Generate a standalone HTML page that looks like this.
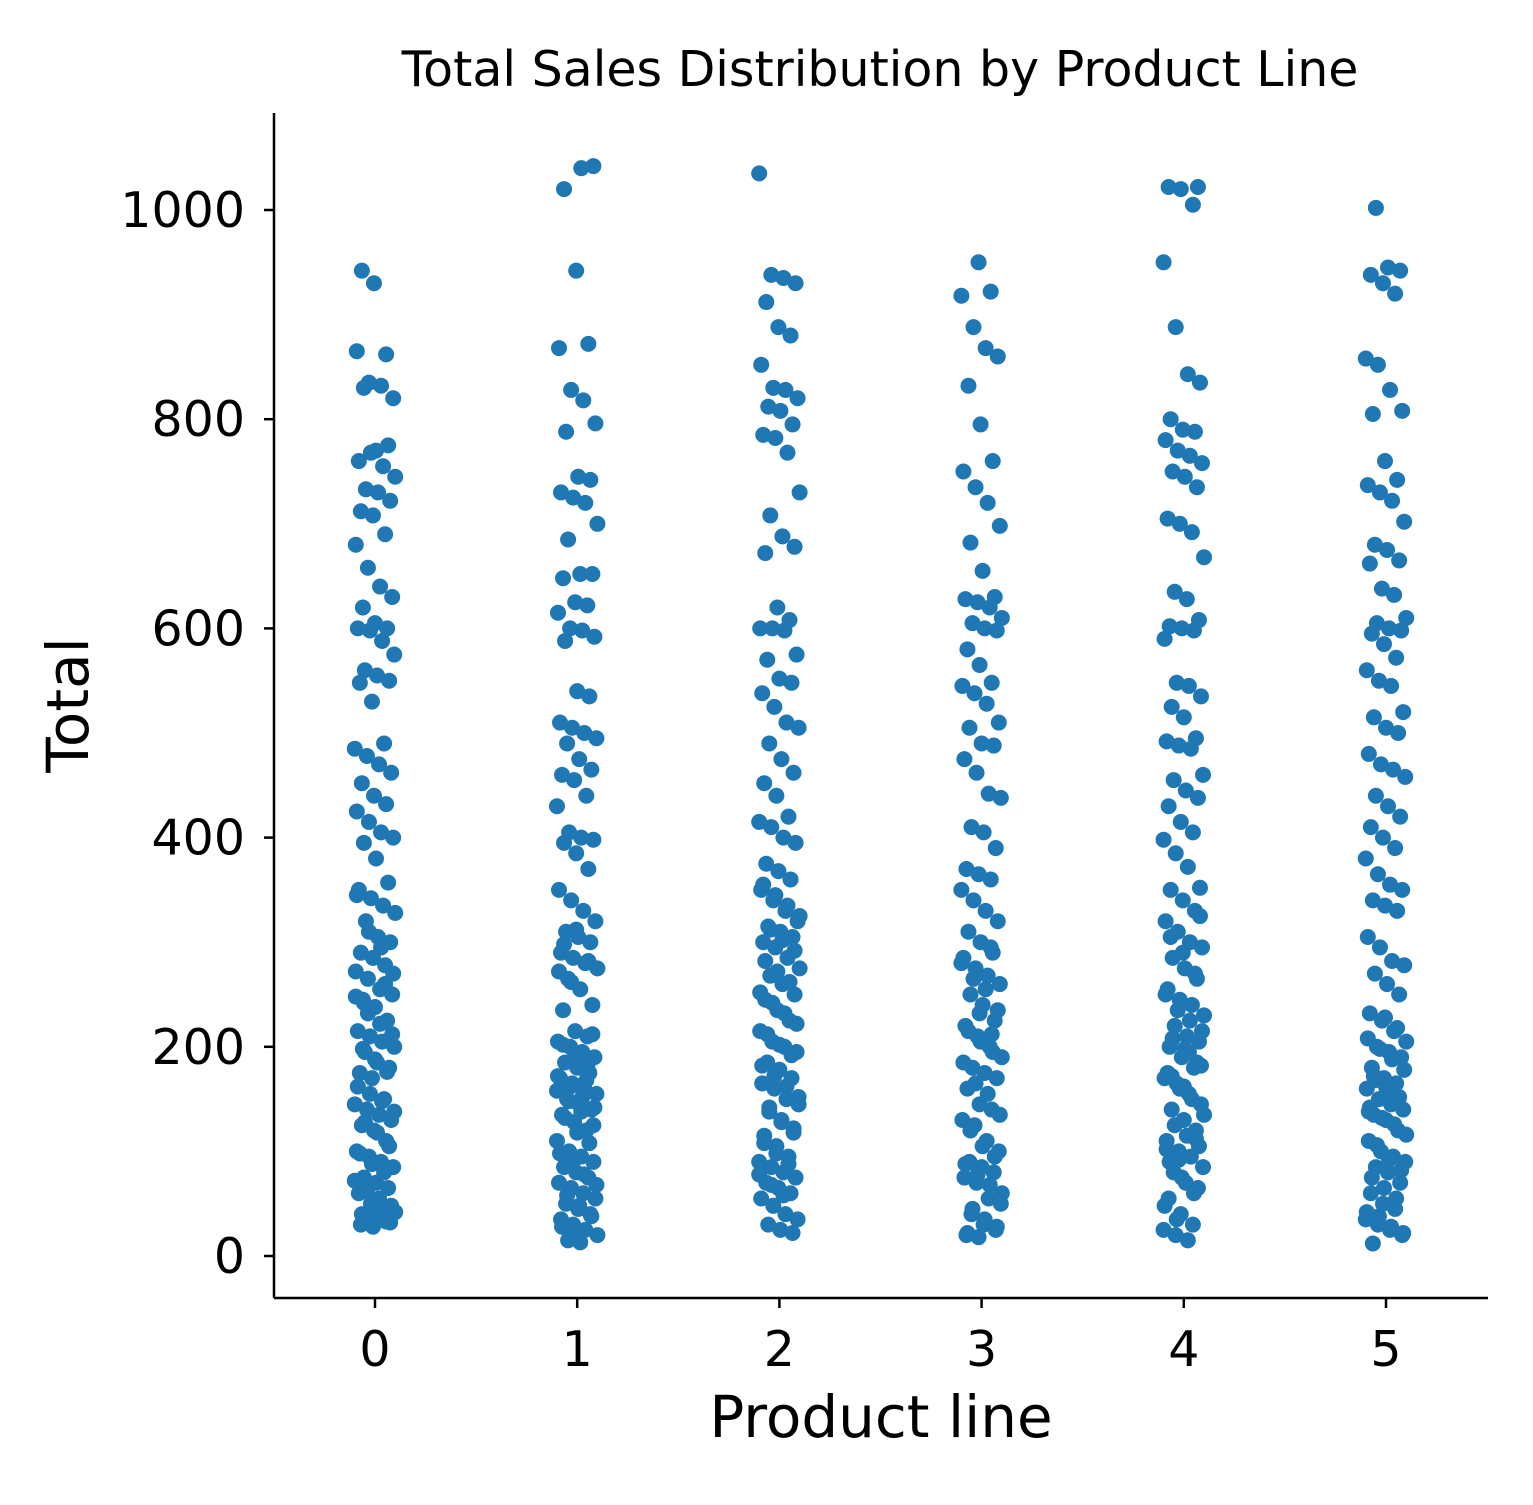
<!DOCTYPE html>
<html><head><meta charset="utf-8"><style>
body{margin:0;background:#fff}
svg text{font-family:"DejaVu Sans","Liberation Sans",sans-serif;fill:#000}
</style></head><body>
<svg id="chart" width="1533" height="1500" xmlns="http://www.w3.org/2000/svg">
<rect width="1533" height="1500" fill="#fff"/>
<text x="880" y="86" font-size="49" text-anchor="middle">Total Sales Distribution by Product Line</text>
<g id="points"></g>
<g id="axes"></g>
<text x="881" y="1437" font-size="58" text-anchor="middle">Product line</text>
<text transform="translate(88,705) rotate(-90)" font-size="58" text-anchor="middle">Total</text>
</svg>
<script>
const categories = ["0","1","2","3","4","5"];
const yTicks = [0,200,400,600,800,1000];
const cat0 = [942,930,862,865,835,832,820,830,770,775,760,768,755,745,733,730,722,712,708,690,680,658,640,630,620,605,600,600,598,588,575,560,555,550,548,530,490,485,478,470,462,452,440,432,425,415,405,400,395,380,357,350,342,335,328,320,305,300,290,285,278,272,265,255,250,245,238,225,215,210,205,200,195,185,180,175,170,150,145,140,135,130,125,120,110,100,95,90,85,75,70,65,60,50,45,42,38,35,32,30,28,
  260,248,232,222,212,198,188,176,162,155,148,138,128,118,105,98,88,80,72,62,55,48,40,36,33,345,310,295,270,242];
const cat1 = [1040,1042,1020,942,872,868,828,818,796,788,745,742,730,725,720,700,685,652,652,648,625,622,615,600,598,592,588,540,535,510,505,500,495,490,475,465,460,455,440,430,405,400,398,395,385,370,350,340,330,320,310,305,300,290,285,280,275,265,255,240,235,215,210,205,200,195,190,185,180,175,170,165,160,155,150,145,140,135,128,120,110,100,95,90,85,80,75,70,65,60,55,50,45,40,35,30,25,20,15,13,
  212,202,192,182,172,162,152,142,132,118,108,98,88,78,68,58,48,38,28,18,168,158,148,138,125,298,312,282,272,262];
const cat2 = [1035,938,935,930,912,888,880,852,830,828,820,812,808,795,785,782,768,730,708,688,678,672,620,608,600,600,598,575,570,552,548,538,525,510,505,490,475,462,452,440,420,415,410,400,395,375,368,360,350,340,330,320,315,310,305,300,295,285,275,268,260,250,245,235,225,215,205,200,195,185,178,170,165,160,150,145,138,130,122,115,105,95,90,85,80,75,70,65,60,55,48,40,35,30,25,22,
  355,345,335,325,312,302,292,282,272,262,252,242,232,222,212,202,192,182,172,162,152,142,128,118,108,98,88,78,68,58];
const cat3 = [950,922,918,888,868,860,832,795,760,750,735,720,698,682,655,630,628,625,620,610,605,600,598,580,565,548,545,538,528,510,505,490,488,475,462,442,438,410,405,390,370,365,360,350,340,330,320,310,300,290,285,275,268,260,250,240,225,220,210,200,190,180,175,170,160,145,140,130,125,110,100,90,85,80,75,70,55,50,40,30,25,20,18,
  295,280,265,255,235,215,205,195,185,165,155,135,120,105,95,88,78,68,60,45,35,28,22,232,212];
const cat4 = [1022,1022,1020,1005,950,888,843,835,800,790,788,780,770,765,758,750,745,735,705,700,692,668,635,628,608,602,600,598,590,548,545,535,525,515,495,492,488,485,460,455,445,438,430,415,405,398,385,372,352,350,340,330,320,310,300,295,285,275,265,255,245,240,230,220,210,205,200,190,180,170,165,155,145,140,130,120,110,100,95,85,80,70,65,55,40,30,25,20,15,
  325,305,290,270,250,235,225,215,208,198,185,175,160,150,135,125,115,105,90,75,60,48,35,195,182,172,162,112,102,92];
const cat5 = [1002,945,942,938,930,920,858,852,828,808,805,760,742,737,730,722,702,680,675,665,662,638,632,610,605,600,598,595,585,572,560,550,545,520,515,505,500,480,470,465,458,440,430,420,410,400,390,380,365,355,350,340,335,330,305,295,282,278,270,260,250,232,225,215,205,200,195,190,180,170,165,160,150,145,140,135,130,120,110,100,95,90,85,80,70,60,50,45,35,30,25,20,12,
  228,218,208,198,188,178,168,158,152,142,132,126,116,106,92,82,75,65,55,42,38,28,22,172,162,148,138];
const seriesValues = [cat0,cat1,cat2,cat3,cat4,cat5];

const NS="http://www.w3.org/2000/svg";
const xs = v => 375 + v*202.2;
const ys = v => 1256 - v*1.046;
const pts = document.getElementById('points');
seriesValues.forEach((vals,c)=>{
  vals.forEach((v,i)=>{
    const j = (((i*53 + c*17 + 7) % 41)/40 - 0.5)*0.2;
    const el=document.createElementNS(NS,'circle');
    el.setAttribute('cx', xs(c + j));
    el.setAttribute('cy', ys(v));
    el.setAttribute('r', 8);
    el.setAttribute('fill', '#1f77b4');
    
    
    pts.appendChild(el);
  });
});
const ax=document.getElementById('axes');
function add(tag,attrs,text){const e=document.createElementNS(NS,tag);for(const k in attrs)e.setAttribute(k,attrs[k]);if(text!==undefined)e.textContent=text;ax.appendChild(e);return e;}
const yl=add('line',{x1:274,y1:113,x2:274,y2:1298,stroke:'#000','stroke-width':2.5});


const xl=add('line',{x1:274,y1:1298,x2:1488,y2:1298,stroke:'#000','stroke-width':2.5});


yTicks.forEach(t=>{
  add('line',{x1:264,y1:ys(t),x2:274,y2:ys(t),stroke:'#000','stroke-width':2.5});
  const tx=add('text',{x:245,y:ys(t)+17,'font-size':49,'text-anchor':'end'},String(t));
  
  
});
categories.forEach((c,i)=>{
  add('line',{x1:xs(i),y1:1298,x2:xs(i),y2:1308,stroke:'#000','stroke-width':2.5});
  const tx=add('text',{x:xs(i),y:1366,'font-size':49,'text-anchor':'middle'},c);
  
  
});
</script>
</body></html>
